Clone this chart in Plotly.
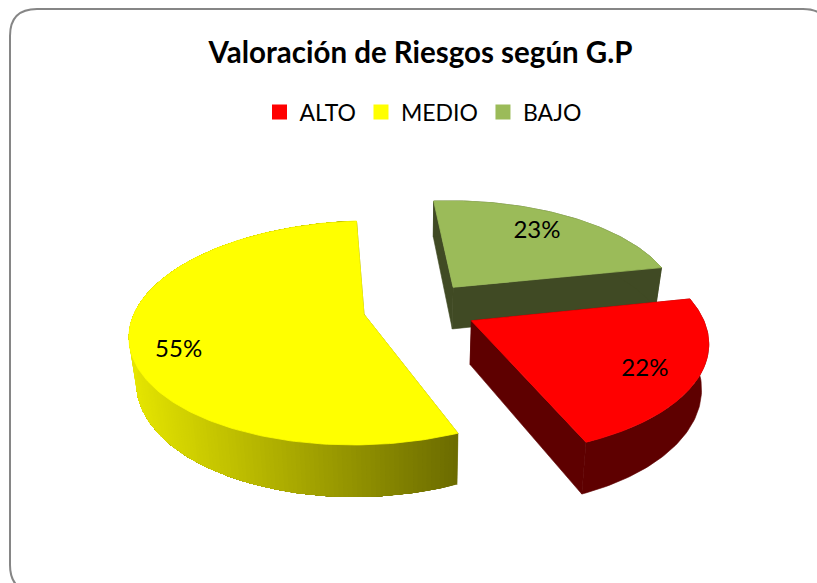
"""Exploded 3D-look pie chart: Valoracion de Riesgos segun G.P"""

import numpy as np
import plotly.graph_objects as go

# Data
categories = ["ALTO", "MEDIO", "BAJO"]
values = [22, 55, 23]
chart_title = "Valoración de Riesgos según G.P"

# Slice styles
top_colors = ["#FF0000", "#FFFF00", "#9BBB59"]
wall_left = [(0x5E, 0, 0), (0xE6, 0xE6, 0), (0x40, 0x4A, 0x24)]
wall_right = [(0x5E, 0, 0), (0x6C, 0x6C, 0), (0x40, 0x4A, 0x24)]
cut_colors = ["#5E0000", "#6C6C00", "#404A24"]
draw_order = [2, 1, 0]  # back to front
label_offsets = [(0.68, -0.41), (-0.75, -0.32), (0.43, 0.60)]

# Projection settings (pie drawn on a tilted plane, in page pixels)
FIRST_ANGLE = 78.3
EXPLODE = 0.25
CX, CY = 420, 308
RADIUS = 228
TILT = 0.469
PERSPECTIVE = 0.164
DEPTH = 43
DEPTH_SHRINK = 0.975
FONT = "Lato, 'Open Sans', sans-serif"


def project(u, v, low=False):
    """World point on the pie plane to page pixels; low = bottom of the pie."""
    s = 1 / (1 + PERSPECTIVE * v)
    x = RADIUS * u * s
    y = -RADIUS * TILT * v * s
    if low:
        return CX + x * DEPTH_SHRINK, CY + y + DEPTH * s
    return CX + x, CY + y


def poly(xs, ys, color, width=0.0):
    return go.Scatter(
        x=list(xs) + [xs[0]], y=list(ys) + [ys[0]], mode="lines", fill="toself",
        fillcolor=color, line=dict(color=color, width=width),
        hoverinfo="skip", showlegend=False,
    )


fig = go.Figure()

total = sum(values)
spans = np.array(values) / total * 360
starts = FIRST_ANGLE + np.concatenate([[0], np.cumsum(spans)[:-1]])
mids = np.radians(starts + spans / 2)
centers = [(EXPLODE * np.sin(m), EXPLODE * np.cos(m)) for m in mids]

for i in draw_order:
    cu, cv = centers[i]
    angles = np.radians(np.linspace(starts[i], starts[i] + spans[i], int(spans[i]) + 2))
    rim_u = cu + np.sin(angles)
    rim_v = cv + np.cos(angles)
    top_x, top_y = project(rim_u, rim_v)
    low_x, low_y = project(rim_u, rim_v, low=True)
    ax, ay = project(cu, cv)
    lx, ly = project(cu, cv, low=True)

    # cut faces (the thin outline closes the seam against the outer wall)
    for k in (0, -1):
        fig.add_trace(poly([ax, top_x[k], low_x[k], lx], [ay, top_y[k], low_y[k], ly], cut_colors[i], 0.6))

    # outer wall, shaded from left to right; painted from the dark end so each
    # band runs under the next one and no seams show
    x_min, x_max = top_x.min(), top_x.max()
    bands = range(len(angles) - 1) if wall_left[i] != wall_right[i] else [0]
    for k in bands:
        t = np.clip((top_x[k] - x_min) / (x_max - x_min), 0, 1)
        rgb = [round(a + (b - a) * t) for a, b in zip(wall_left[i], wall_right[i])]
        fig.add_trace(poly(
            list(top_x[k:]) + list(low_x[k:][::-1]),
            list(top_y[k:]) + list(low_y[k:][::-1]),
            f"rgb({rgb[0]},{rgb[1]},{rgb[2]})", 0.6 if len(bands) == 1 else 0.0,
        ))

    # top face
    fig.add_trace(poly([ax] + list(top_x), [ay] + list(top_y), top_colors[i], 0.8))

# Percent labels
label_xy = [project(c[0] + o[0], c[1] + o[1]) for c, o in zip(centers, label_offsets)]
fig.add_trace(go.Scatter(
    x=[p[0] for p in label_xy], y=[p[1] for p in label_xy], mode="text",
    text=[f"{v}%" for v in values], textposition="middle center",
    textfont=dict(family=FONT, size=24, color="#000000"),
    hoverinfo="skip", showlegend=False,
))

# Legend entries
for name, color in zip(categories, top_colors):
    fig.add_trace(go.Scatter(
        x=[None], y=[None], mode="markers", name=name,
        marker=dict(symbol="square", size=15, color=color),
    ))

fig.update_layout(
    width=817, height=583, margin=dict(l=0, r=0, t=0, b=0),
    paper_bgcolor="#FFFFFF", plot_bgcolor="#FFFFFF",
    xaxis=dict(range=[0, 817], visible=False, fixedrange=True),
    yaxis=dict(range=[583, 0], visible=False, fixedrange=True),
    title=dict(
        text=f"<b>{chart_title}</b>", x=420.5 / 817, xanchor="center",
        y=1 - 53 / 583, yanchor="middle",
        font=dict(family=FONT, size=29.5, color="#000000"),
    ),
    legend=dict(
        orientation="h", x=423 / 817, xanchor="center", y=1 - 112 / 583, yanchor="middle",
        font=dict(family=FONT, size=23, color="#000000"),
        itemsizing="trace", itemwidth=30, bgcolor="rgba(0,0,0,0)",
    ),
    shapes=[dict(
        type="path", xref="x", yref="y",
        path="M 10 36 Q 10 9 37 9 L 803 9 Q 830 9 830 36 L 830 565 Q 830 592 803 592 "
             "L 37 592 Q 10 592 10 565 Z",
        line=dict(color="#868686", width=2), fillcolor="rgba(0,0,0,0)", layer="above",
    )],
)

fig.write_html(
    "out.html",
    config={"displayModeBar": False},
    post_script="document.body.style.margin='0';document.documentElement.style.overflow='hidden';",
)
